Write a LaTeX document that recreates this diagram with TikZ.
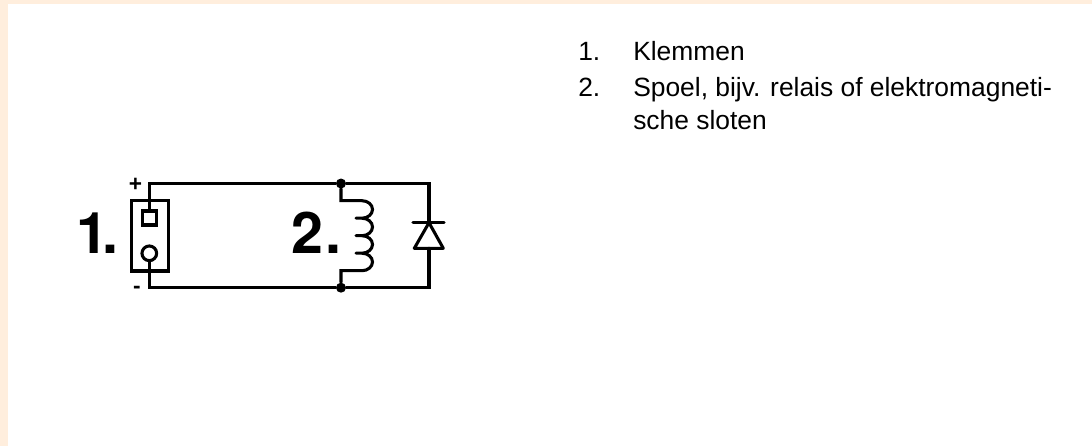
\documentclass[tikz,border=0pt]{standalone}
\usepackage{fontspec}
\setmainfont{Liberation Sans}
\newfontfamily\heros{TeX Gyre Heros}
\definecolor{band}{HTML}{FFEEDD}
\tikzset{
  wire/.style={line width=2.3pt,line cap=round,line join=miter,black},
  dotnode/.style={circle,fill=black,inner sep=0pt,minimum size=7.5pt},
  biglabel/.style={inner sep=0pt,anchor=base west,font=\fontsize{43}{43}\selectfont\heros\bfseries},
  listtext/.style={inner sep=0pt,anchor=base west,font=\fontsize{19.8}{19.8}\selectfont},
  polar/.style={inner sep=0pt,font=\fontsize{17}{17}\selectfont\bfseries}
}
\begin{document}
\begin{tikzpicture}[x=0.75pt,y=-0.75pt]
\useasboundingbox (0,0) rectangle (1092,446);
\fill[band] (0,0) rectangle (1092,4);
\fill[band] (0,0) rectangle (8,446);
% terminal block
\draw[wire] (131.7,200.7) rectangle (168.3,271);
\node[draw,wire,fill=white,minimum size=10.5pt,inner sep=0pt] (sq) at (149.3,218) {};
\node[draw,wire,fill=white,circle,minimum size=11pt,inner sep=0pt] (ci) at (149.3,253.3) {};
\node[dotnode] (jt) at (341,183.5) {};
\node[dotnode] (jb) at (341,287.7) {};
\coordinate (tl) at (149.3,183.5);
\coordinate (bl) at (149.3,287.7);
\coordinate (tr) at (429,183.5);
\coordinate (br) at (429,287.7);
\draw[wire] (sq.north) -- (tl) -- (jt) -- (tr) -- (429,222.7);
\draw[wire] (ci.south) -- (bl) -- (jb) -- (br) -- (429,248.3);
% coil
\draw[wire] (jt) -- (341,200.7) -- (362,200.7)
  arc[start angle=-90,end angle=90,x radius=10.5,y radius=8.75]
  -- ++(-6,0) ++(6,0)
  arc[start angle=-90,end angle=90,x radius=10.5,y radius=8.75]
  -- ++(-6,0) ++(6,0)
  arc[start angle=-90,end angle=90,x radius=10.5,y radius=8.75]
  -- ++(-6,0) ++(6,0)
  arc[start angle=-90,end angle=90,x radius=10.5,y radius=8.75]
  -- (341,270.7) -- (jb);
% diode
\draw[wire] (413,222.7) -- (444,222.7);
\draw[wire,line join=round] (429,222.7) -- (443.3,248.3) -- (414.3,248.3) -- cycle;
% labels
\node[biglabel] (l1) at (76,253) {1\kern-4.5pt.};
\node[biglabel] (l2) at (291.5,253) {2\kern1.5pt.};
\node[polar] (plus) at (135.5,185) {+};
\node[polar] (minus) at (137,290) {-};
\node[listtext] (a1) at (578,60) {1.};
\node[listtext] (a2) at (633,60) {Klemmen};
\node[listtext] (b1) at (578,96) {2.};
\node[listtext] (b2) at (633,96) {Spoel, bijv. relais of elektromagneti-};
\node[listtext] (b3) at (633,129) {sche sloten};
\end{tikzpicture}
\end{document}
